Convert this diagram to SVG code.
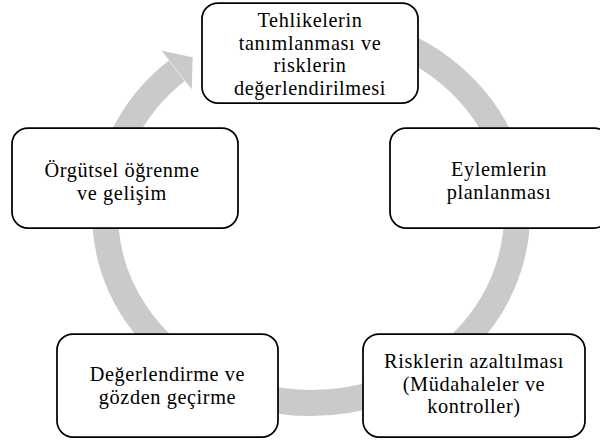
<svg xmlns="http://www.w3.org/2000/svg" width="600" height="441" viewBox="0 0 600 441">
  <style>
    .box { fill: #ffffff; stroke: #000000; stroke-width: 1.75; }
    .lbl { font-family: "Liberation Serif", "DejaVu Serif", serif; font-size: 20.3px; letter-spacing: 0.6px; fill: #000000; text-anchor: middle; }
    .ring { fill: none; stroke: #cacaca; stroke-width: 26; }
    .head { fill: #cacaca; stroke: none; }
  </style>
  <rect width="600" height="441" fill="#ffffff"/>
  <g id="connectors">
    <path class="ring" d="M 311 25 A 206 189 0 1 1 176.7 70.7"/>
    <polygon class="head" points="161.7,50.7 192.7,57.3 191.7,89.3"/>
  </g>
  <g id="node-top">
    <rect class="box" x="202" y="3" width="216" height="100" rx="16"/>
    <text class="lbl" x="310" y="27">Tehlikelerin</text>
    <text class="lbl" x="310" y="49.5">tanımlanması ve</text>
    <text class="lbl" x="310" y="72">risklerin</text>
    <text class="lbl" x="310" y="94.5">değerlendirilmesi</text>
  </g>
  <g id="node-right">
    <rect class="box" x="390" y="128" width="220" height="100" rx="16"/>
    <text class="lbl" x="499" y="176">Eylemlerin</text>
    <text class="lbl" x="499" y="198.5">planlanması</text>
  </g>
  <g id="node-bottom-right">
    <rect class="box" x="363" y="334" width="222" height="103" rx="16"/>
    <text class="lbl" x="474" y="368">Risklerin azaltılması</text>
    <text class="lbl" x="474" y="390.5">(Müdahaleler ve</text>
    <text class="lbl" x="474" y="413">kontroller)</text>
  </g>
  <g id="node-bottom-left">
    <rect class="box" x="57" y="334" width="221" height="103" rx="16"/>
    <text class="lbl" x="167.5" y="381">Değerlendirme ve</text>
    <text class="lbl" x="167.5" y="403.5">gözden geçirme</text>
  </g>
  <g id="node-left">
    <rect class="box" x="12" y="128" width="226" height="100" rx="16"/>
    <text class="lbl" x="122" y="177">Örgütsel öğrenme</text>
    <text class="lbl" x="122" y="199.5">ve gelişim</text>
  </g>
</svg>
